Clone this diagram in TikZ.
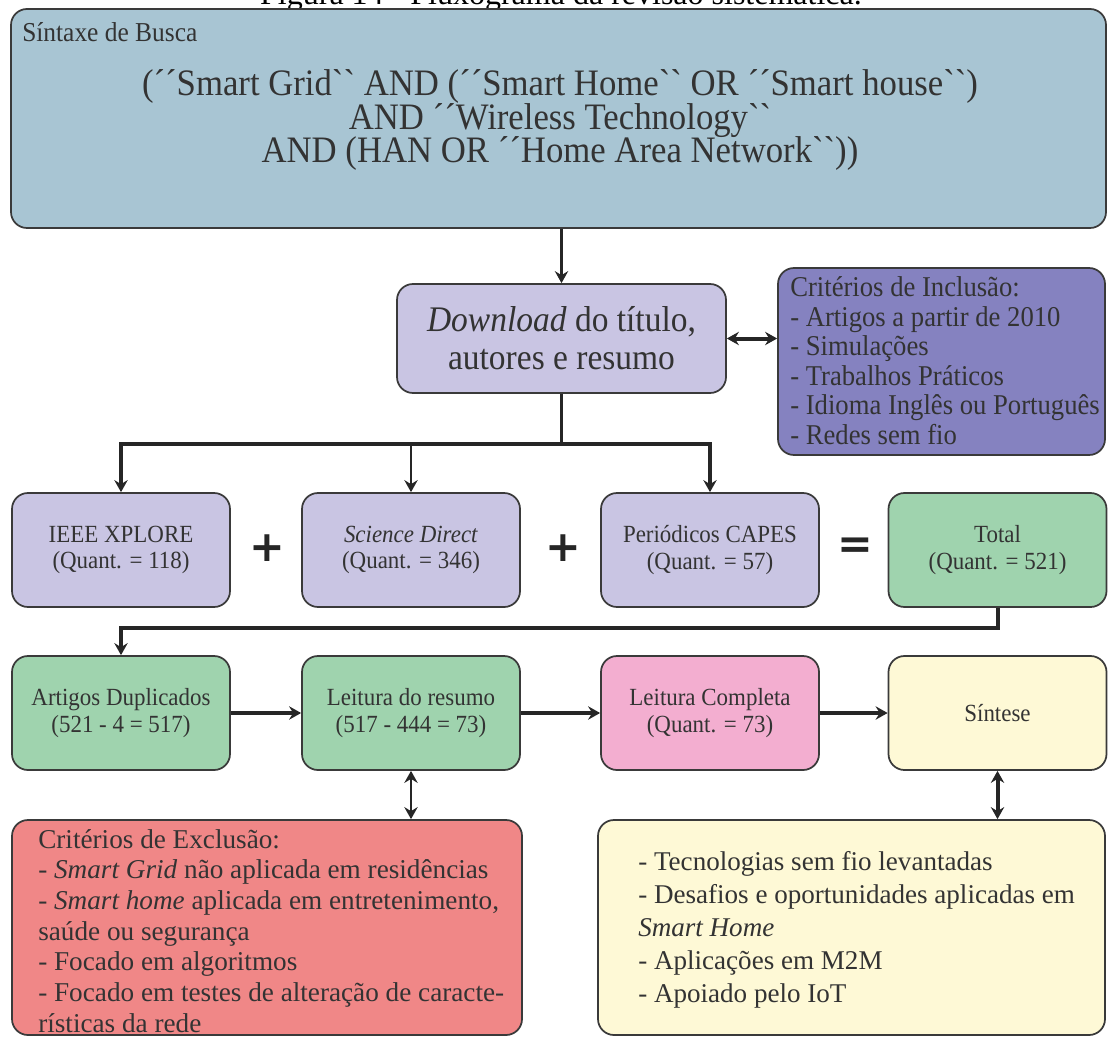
\documentclass[tikz,border=0pt]{standalone}
\usepackage{fontspec}
\setmainfont{Liberation Serif}[Ligatures=TeXOff]
\newfontfamily\narrowserif{Liberation Serif}[Ligatures=TeXOff, FakeStretch=0.93]
\newfontfamily\symfont{DejaVu Sans}
\newcommand\tightlines{\lineskiplimit=-20pt\relax\lineskip=0pt\relax}
\usetikzlibrary{arrows.meta}
\definecolor{qblue}{HTML}{A8C5D3}
\definecolor{lav}{HTML}{C9C5E3}
\definecolor{incl}{HTML}{8582C0}
\definecolor{mint}{HTML}{9FD3AE}
\definecolor{rosa}{HTML}{F3AED0}
\definecolor{creme}{HTML}{FEF9D6}
\definecolor{excl}{HTML}{F08787}
\definecolor{edge}{HTML}{3A3A3A}
\definecolor{ink}{HTML}{333333}
\tikzset{
  box/.style={draw=edge, line width=1.3pt, rounded corners=12pt, inner sep=0pt, align=center, text=ink},
  rowbox/.style={box, minimum width=163.5pt, minimum height=85.5pt, font=\narrowserif\fontsize{18.5}{20}\selectfont},
  listtext/.style={anchor=base west, inner sep=0pt, text=ink},
  conn/.style={line width=3pt, draw=black!85},
  thin/.style={line width=2pt, draw=black!85},
  tip/.style={-{Stealth[length=9pt,width=10pt,inset=3pt]}},
  tips/.style={{Stealth[length=9pt,width=10pt,inset=3pt]}-{Stealth[length=9pt,width=10pt,inset=3pt]}},
  sym/.style={font=\symfont\bfseries\fontsize{32}{32}\selectfont, text=black!85},
}
\begin{document}
\begin{tikzpicture}[x=0.75pt,y=-0.75pt]
\useasboundingbox (0,0) rectangle (1109,1037);
% caption above the chart (its upper part lies beyond the page)
\node[anchor=base, inner sep=0pt, font=\fontsize{24}{26}\selectfont] (cap) at (561,5) {Figura 14 - Fluxograma da revisão sistemática.};
% search string
\node[box, fill=qblue, minimum width=821.25pt, minimum height=164.25pt] (query) at (558.5,118.5) {};
\node[anchor=base west, inner sep=0pt, font=\narrowserif\fontsize{20.5}{22}\selectfont, text=ink] (qtitle) at (22,42) {Síntaxe de Busca};
\node[font=\narrowserif\fontsize{28}{25}\selectfont\tightlines, align=center, text=ink, inner sep=0pt] (qtext) at (560,120)
  {(´´Smart Grid`` AND (´´Smart Home`` OR ´´Smart house``)\\
   AND ´´Wireless Technology``\\
   AND (HAN OR ´´Home Area Network``))};
% download and inclusion criteria
\node[box, fill=lav, minimum width=246.75pt, minimum height=81.75pt, font=\narrowserif\fontsize{27}{28.5}\selectfont] (dl) at (561.5,338.5)
  {\textit{Download} do título,\\autores e resumo};
\node[box, fill=incl, minimum width=245.25pt, minimum height=140.25pt] (inc) at (941.5,361.5) {};
\node[listtext, font=\narrowserif\fontsize{21.5}{22.1}\selectfont] (inctext) at (790,297)
  {\parbox[t]{240pt}{\raggedright Critérios de Inclusão:\\- Artigos a partir de 2010\\- Simulações\\- Trabalhos Práticos\\- Idioma Inglês ou Português\\- Redes sem fio}};
% databases
\node[rowbox, fill=lav] (ieee) at (121,550) {IEEE XPLORE\\(Quant. = 118)};
\node[rowbox, fill=lav] (sd) at (411,550) {\textit{Science Direct}\\(Quant. = 346)};
\node[rowbox, fill=lav] (capes) at (710,550) {Periódicos CAPES\\(Quant. = 57)};
\node[rowbox, fill=mint] (tot) at (997.5,550) {Total\\(Quant. = 521)};
\node[sym] (p1) at (267,548) {+};
\node[sym] (p2) at (563,548) {+};
\node[sym] (eq) at (855,548) {=};
% screening
\node[rowbox, fill=mint] (dup) at (121,713) {Artigos Duplicados\\(521 - 4 = 517)};
\node[rowbox, fill=mint] (res) at (411,713) {Leitura do resumo\\(517 - 444 = 73)};
\node[rowbox, fill=rosa] (full) at (710,713) {Leitura Completa\\(Quant. = 73)};
\node[rowbox, fill=creme] (syn) at (997.5,713) {Síntese};
% exclusion criteria and results
\node[box, fill=excl, minimum width=382.5pt, minimum height=161.25pt] (exc) at (267,927.5) {};
\node[listtext, font=\fontsize{20.4}{23}\selectfont] (exctext) at (38,848)
  {\parbox[t]{370pt}{\raggedright Critérios de Exclusão:\\
   - \textit{Smart Grid} não aplicada em residências\\
   - \textit{Smart home} aplicada em entretenimento,\\
   saúde ou segurança\\
   - Focado em algoritmos\\
   - Focado em testes de alteração de caracte-\\
   rísticas da rede}};
\node[box, fill=creme, minimum width=380.25pt, minimum height=161.25pt] (out) at (851.5,927.5) {};
\node[listtext, font=\fontsize{20.3}{24.75}\selectfont] (outtext) at (638,870)
  {\parbox[t]{360pt}{\raggedright - Tecnologias sem fio levantadas\\
   - Desafios e oportunidades aplicadas em\\
   \textit{Smart Home}\\
   - Aplicações em M2M\\
   - Apoiado pelo IoT}};
% connectors
\coordinate (bus) at (561.5,444);
\coordinate (loop) at (997.5,628);
\draw[thin, tip] (query.south -| dl) -- (dl.north);
\draw[conn, tips] (dl.east) -- (inc.west |- dl.east);
\draw[thin] (dl.south) -- (bus);
\draw[conn, tip] (bus) -| (ieee.north);
\draw[thin, tip] (bus -| sd) -- (sd.north);
\draw[conn, tip] (bus) -| (capes.north);
\draw[conn, tip] (tot.south) -- (loop) -| (dup.north);
\draw[conn, tip] (dup) -- (res);
\draw[conn, tip] (res) -- (full);
\draw[conn, tip] (full) -- (syn);
\draw[thin, tips] (res.south) -- (exc.north -| res);
\draw[conn, tips] (syn.south) -- (out.north -| syn);
\end{tikzpicture}
\end{document}
